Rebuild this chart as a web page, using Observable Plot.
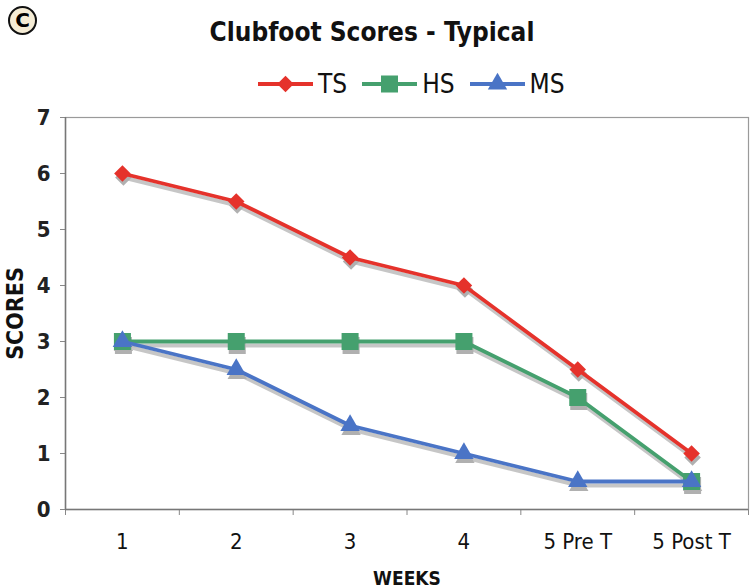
<!DOCTYPE html>
<html>
<head>
<meta charset="utf-8">
<script src="https://cdn.jsdelivr.net/npm/d3@7"></script>
<script src="https://cdn.jsdelivr.net/npm/@observablehq/plot@0.6"></script>
<style>
  html, body { margin: 0; padding: 0; background: #fff; }
  #wrap { position: relative; width: 754px; height: 588px; overflow: hidden; font-family: "DejaVu Sans Condensed", "DejaVu Sans", sans-serif; }
  #title { position: absolute; left: 0; width: 744px; top: 17px; line-height: 30px; text-align: center; font-weight: bold; font-size: 26px; color: #111; }
  #badge { position: absolute; left: 8px; top: 6px; width: 25px; height: 25px; border: 2px solid #111; border-radius: 50%; background: #f5ecd5; text-align: center; line-height: 25px; font-weight: bold; font-size: 20px; font-family: "DejaVu Sans", sans-serif; }
  #legend { position: absolute; top: 69px; left: 258px; height: 30px; display: flex; align-items: center; font-size: 26px; line-height: 30px; color: #111; }
  #legend .item { display: flex; align-items: center; margin-right: 15px; }
  #legend svg { margin-right: 5px; }
  #chart { position: absolute; left: 0; top: 0; }
</style>
</head>
<body>
<div id="wrap">
  <div id="chart"></div>
  <div id="badge">C</div>
  <div id="title">Clubfoot Scores - Typical</div>
  <div id="legend"></div>
</div>
<script>
// ---- data ----
const weeks = ["1", "2", "3", "4", "5 Pre T", "5 Post T"];
const seriesNames = ["TS", "HS", "MS"];
const tsScores = [6, 5.5, 4.5, 4, 2.5, 1];
const hsScores = [3, 3, 3, 3, 2, 0.5];
const msScores = [3, 2.5, 1.5, 1, 0.5, 0.5];
const yTicks = [0, 1, 2, 3, 4, 5, 6, 7];

// ---- styles ----
const diamondSymbol = {
  draw(ctx, size) {
    const h = Math.sqrt(size / 2);
    ctx.moveTo(0, -h); ctx.lineTo(h, 0); ctx.lineTo(0, h); ctx.lineTo(-h, 0); ctx.closePath();
  }
};
const styles = {
  TS: {color: "#e5322b", symbol: diamondSymbol, r: 6.6},
  HS: {color: "#45a06e", symbol: d3.symbolSquare, r: 9.6},
  MS: {color: "#4a74c6", symbol: d3.symbolTriangle, r: 7.2}
};
const valuesBySeries = {TS: tsScores, HS: hsScores, MS: msScores};

const rows = [];
for (const s of seriesNames) {
  valuesBySeries[s].forEach((v, i) => rows.push({series: s, week: weeks[i], idx: i + 0.5, value: v}));
}

const marks = [
  Plot.frame({stroke: "#9a9a9a", strokeWidth: 1.2}),
  Plot.axisX({ticks: d3.range(0, weeks.length + 1), tickFormat: () => "", tickSize: 6, stroke: "#888", label: null}),
  Plot.axisX({ticks: weeks.map((w, i) => i + 0.5), tickFormat: (d) => weeks[Math.floor(d)], tickSize: 0, tickPadding: 24,
    fontSize: 22, fill: "#111", label: null}),
  Plot.axisY({ticks: yTicks, tickFormat: d3.format("d"), tickSize: 5, tickPadding: 10, stroke: "#888", fontSize: 22, fontWeight: "bold",
    fill: "#222", label: null}),
  Plot.ruleX([0], {stroke: "#777", strokeWidth: 1.5}),
  Plot.ruleY([0], {stroke: "#777", strokeWidth: 1.5}),
];

// shadows
for (const s of seriesNames) {
  const d = rows.filter(r => r.series === s);
  marks.push(Plot.line(d, {x: "idx", y: "value", stroke: "#b8b8b8", strokeWidth: 4, dx: 1, dy: 4, strokeOpacity: 0.8}));
}
for (const s of seriesNames) {
  const d = rows.filter(r => r.series === s);
  marks.push(Plot.dot(d, {x: "idx", y: "value", symbol: styles[s].symbol, fill: "#b0b0b0", r: styles[s].r, dx: 1, dy: 4, stroke: "none"}));
}
for (const s of seriesNames) {
  const d = rows.filter(r => r.series === s);
  marks.push(Plot.line(d, {x: "idx", y: "value", stroke: styles[s].color, strokeWidth: 3.8}));
  marks.push(Plot.dot(d, {x: "idx", y: "value", symbol: styles[s].symbol, fill: styles[s].color, r: styles[s].r, stroke: "none"}));
}

const chart = Plot.plot({
  width: 754,
  height: 588,
  marginTop: 117,
  marginBottom: 79,
  marginLeft: 65,
  marginRight: 6,
  style: {fontFamily: "DejaVu Sans Condensed, DejaVu Sans, sans-serif", background: "#fff"},
  x: {type: "linear", domain: [0, weeks.length], axis: null},
  y: {domain: [0, 7], axis: null},
  marks: [
    ...marks,
    Plot.text(["WEEKS"], {frameAnchor: "bottom", dy: 75, fontSize: 19, fontWeight: "bold", fill: "#111"}),
    Plot.text(["SCORES"], {frameAnchor: "left", textAnchor: "middle", dx: -50, rotate: -90, fontSize: 23, fontWeight: "bold", fill: "#111"})
  ]
});
document.getElementById("chart").appendChild(chart);

// legend
const legend = document.getElementById("legend");
for (const s of seriesNames) {
  const item = document.createElement("div");
  item.className = "item";
  const svg = d3.create("svg").attr("width", 55).attr("height", 24);
  svg.append("line").attr("x1", 0).attr("x2", 55).attr("y1", 12).attr("y2", 12)
    .attr("stroke", styles[s].color).attr("stroke-width", 3.8);
  svg.append("path").attr("transform", "translate(27.5,12)")
    .attr("d", d3.symbol(styles[s].symbol, Math.PI * styles[s].r * styles[s].r)())
    .attr("fill", styles[s].color);
  item.appendChild(svg.node());
  const label = document.createElement("span");
  label.textContent = s;
  item.appendChild(label);
  legend.appendChild(item);
}
</script>
</body>
</html>
